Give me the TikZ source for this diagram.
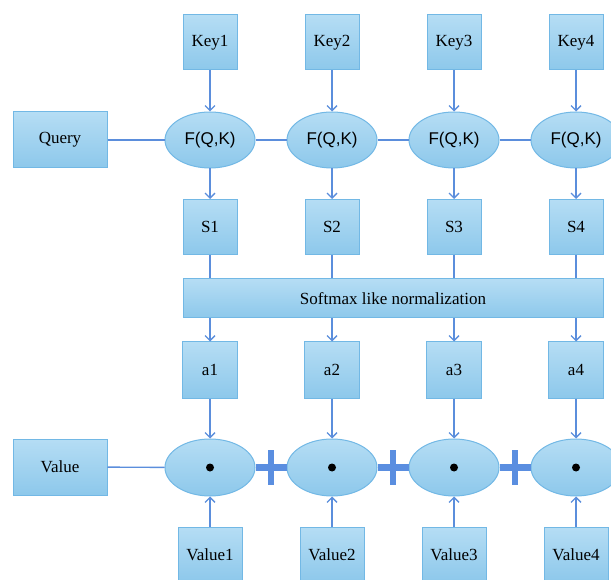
\documentclass[tikz,border=0pt]{standalone}
\usepackage{fontspec}
\setmainfont{Liberation Serif}
\newfontfamily\arialf{Liberation Sans}
\usetikzlibrary{shapes.geometric,arrows.meta,calc}
\definecolor{boxtop}{HTML}{B5DDF4}
\definecolor{boxbot}{HTML}{8DC8EB}
\definecolor{boxline}{HTML}{72B8E5}
\definecolor{conn}{HTML}{5B8EDC}
\definecolor{plusc}{HTML}{5A8EE0}
\tikzset{
  base/.style={draw=boxline, line width=1pt, top color=boxtop, bottom color=boxbot,
    inner sep=0pt, font=\fontsize{17}{20}\selectfont},
  sq/.style={base, rectangle, minimum width=54pt, minimum height=55pt},
  wide/.style={base, rectangle, minimum width=94pt, minimum height=56pt},
  vbox/.style={base, rectangle, minimum width=64pt, minimum height=55pt},
  ell/.style={base, ellipse, minimum width=90pt, minimum height=56pt},
  softbox/.style={base, rectangle, minimum width=420pt, minimum height=39pt},
  conline/.style={draw=conn, line width=1.4pt},
  arr/.style={conline, -{Straight Barb[length=5pt,width=10pt]}},
  plusbar/.style={draw=plusc, line width=7pt},
  plusvert/.style={draw=plusc, line width=6pt},
}
\begin{document}
\begin{tikzpicture}[x=1pt,y=-1pt]
\useasboundingbox (0,0) rectangle (611,580);
\clip (0,0) rectangle (611,580);
% left boxes
\node[wide] (query) at (60,140) {Query};
\node[wide] (value) at (60,467) {Value};
% softmax
\node[softbox] (soft) at (393,298.5) {Softmax like normalization};
% columns
\foreach \i/\x in {1/210,2/332,3/454,4/576}{
  \node[sq] (key\i) at (\x,42.5) {Key\i};
  \node[ell, font=\arialf\fontsize{17}{20}\selectfont] (f\i) at (\x,140) {F(Q,K)};
  \node[sq] (s\i) at (\x,227) {S\i};
  \node[sq, minimum width=55pt, minimum height=56pt] (a\i) at (\x,370) {a\i};
  \node[ell, minimum height=57pt] (v\i) at (\x,467.5) {};
  \fill (v\i.center) circle (4pt);
  \node[vbox] (val\i) at (\x,554.5) {Value\i};
  \draw[arr] (key\i) -- (f\i);
  \draw[arr] (f\i) -- (s\i);
  \draw[conline] (s\i) -- (s\i |- soft.north);
  \draw[arr] (a\i |- soft.south) -- (a\i);
  \draw[arr] (a\i) -- (v\i);
  \draw[arr] (val\i) -- (v\i);
}
\draw[conline] (query) -- (f1);
\draw[conline] (f1) -- (f2);
\draw[conline] (f2) -- (f3);
\draw[conline] (f3) -- (f4);
\draw[conline] (value) -- (v1);
% plus signs
\foreach \a/\b in {1/2,2/3,3/4}{
  \draw[plusbar] (v\a.east) -- (v\b.west);
  \coordinate (p\a) at ($(v\a.east)!0.5!(v\b.west)$);
  \draw[plusvert] ($(p\a)+(0,-17.5)$) -- ($(p\a)+(0,17.5)$);
}
\end{tikzpicture}
\end{document}
